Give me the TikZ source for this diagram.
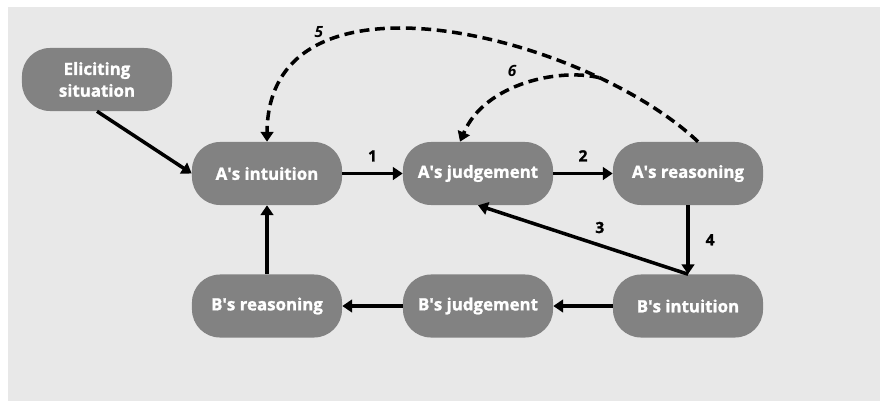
\documentclass[tikz,border=0pt]{standalone}
\usepackage{fontspec}
\setmainfont{Open Sans}[BoldFeatures={FakeBold=1.3}]
\usetikzlibrary{arrows.meta}
\definecolor{boxgray}{HTML}{828282}
\definecolor{bggray}{HTML}{E8E8E8}
\newcommand{\ap}{\textquotesingle}

\begin{document}
\begin{tikzpicture}
[
    x=0.025cm, y=-0.025cm,
    stage/.style={fill=boxgray, text=white, rounded corners=0.7cm, minimum width=3.75cm, minimum height=1.575cm, align=center, font=\fontsize{12}{15.5}\selectfont\bfseries},
    flow/.style={line width=2.5pt, -{Triangle[length=7pt,width=9pt]}},
    back/.style={flow, dash pattern=on 7pt off 4pt},
    num/.style={font=\fontsize{11}{13}\selectfont\bfseries},
]
\useasboundingbox (0,0) rectangle (880,401);
\fill[bggray] (8,7) rectangle (880,401);

% first row
\node [stage] (elicit) at (97,79.5) {Eliciting\\situation};
\node [stage] (aint) at (267,173.5) {A\ap s intuition};
\node [stage] (ajud) at (478,173.5) {A\ap s judgement};
\node [stage] (area) at (688,173.5) {A\ap s reasoning};
% second row
\node [stage] (brea) at (267,306) {B\ap s reasoning};
\node [stage] (bjud) at (478,306) {B\ap s judgement};
\node [stage] (bint) at (688,306) {B\ap s intuition};

\draw [flow] (elicit.south) -- (aint.west);
\draw [flow] (aint.east) -- node[num, above=4pt] {1} (ajud.west);
\draw [flow] (ajud.east) -- node[num, above=4pt] {2} (area.west);
\draw [flow] (bint.north) -- node[num, pos=.42, above=4pt] {3} (ajud.south);
\draw [flow] (area.south) -- node[num, right=8pt] {4} (bint.north);
\draw [flow] (bint.west) -- (bjud.east);
\draw [flow] (bjud.west) -- (brea.east);
\draw [flow] (brea.north) -- (aint.south);

\draw [back] ([xshift=0.25cm]area.north) .. controls (585,35) and (268,-45) .. (aint.north)
    coordinate[pos=.22] (split) node[num, pos=.75, above=3pt] {\itshape 5};
\draw [back] (split) .. controls (560,68) and (485,83) .. ([xshift=-0.45cm]ajud.north)
    node[num, pos=.5, above left=1pt] {\itshape 6};
\end{tikzpicture}
\end{document}
